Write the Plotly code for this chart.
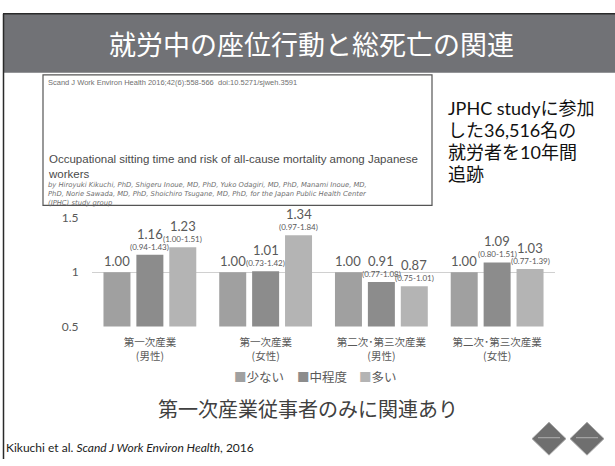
import plotly.graph_objects as go

# --- data -------------------------------------------------------------
categories = ["第一次産業<br>(男性)", "第一次産業<br>(女性)",
              "第二次･第三次産業<br>(男性)", "第二次･第三次産業<br>(女性)"]
series_names = ["少ない", "中程度", "多い"]
hr_low = [1.00, 1.00, 1.00, 1.00]
hr_mid = [1.16, 1.01, 0.91, 1.09]
hr_high = [1.23, 1.34, 0.87, 1.03]
ci_low = ["", "", "", ""]
ci_mid = ["(0.94-1.43)", "(0.73-1.42)", "(0.77-1.08)", "(0.80-1.51)"]
ci_high = ["(1.00-1.51)", "(0.97-1.84)", "(0.75-1.01)", "(0.77-1.39)"]
y_ticks = [0.5, 1, 1.5]

series_values = [hr_low, hr_mid, hr_high]
series_ci = [ci_low, ci_mid, ci_high]
bar_colors = ["#a0a0a0", "#8c8c8c", "#b4b4b4"]

W, H = 615, 466
BASE_FONT = "Lato, 'Noto Sans CJK JP', sans-serif"
JP_FONT = "'Noto Sans CJK JP', sans-serif"
LABEL_GRAY = "#595959"


def px(x):
    return x / W


def py(y):
    return 1 - y / H


fig = go.Figure()
for name, vals, col in zip(series_names, series_values, bar_colors):
    fig.add_trace(go.Bar(x=categories, y=vals, name=name, marker_color=col,
                         marker_line_width=0, showlegend=False))

# value and confidence-interval labels above each bar
slot = 33  # pixel width of one bar slot inside a group
annotations = []
for j, (vals, cis) in enumerate(zip(series_values, series_ci)):
    for cat, v, ci in zip(categories, vals, cis):
        xs = (j - 1) * slot
        annotations.append(dict(x=cat, y=v, xref="x", yref="y", text=f"{v:.2f}",
                                showarrow=False, xshift=xs,
                                yshift=21 if ci else 11,
                                font=dict(family=BASE_FONT, size=13, color=LABEL_GRAY)))
        if ci:
            annotations.append(dict(x=cat, y=v, xref="x", yref="y", text=ci,
                                    showarrow=False, xshift=xs, yshift=8,
                                    font=dict(family=BASE_FONT, size=8, color=LABEL_GRAY)))

# legend row
legend_x = [px(232), px(295), px(357)]
for name, col, lx in zip(series_names, bar_colors, legend_x):
    annotations.append(dict(x=lx, y=py(381), xref="paper", yref="paper",
                            xanchor="left", yanchor="middle", showarrow=False,
                            text=f"<span style='color:{col}'>■</span>{name}",
                            font=dict(family=JP_FONT, size=12.5, color=LABEL_GRAY)))

# slide title
annotations.append(dict(x=px(311), y=py(37), xref="paper", yref="paper",
                        xanchor="center", yanchor="middle", showarrow=False,
                        text="就労中の座位行動と総死亡の関連",
                        font=dict(family=JP_FONT, size=27, color="white")))

# study description on the right
desc = ["JPHC studyに参加", "した36,516名の", "就労者を10年間", "追跡"]
for i, line in enumerate(desc):
    annotations.append(dict(x=px(446), y=py(103 + 23 * i), xref="paper", yref="paper",
                            xanchor="left", yanchor="middle", showarrow=False,
                            text=line,
                            font=dict(family="Lato, 'Noto Sans CJK JP'", size=18,
                                      color="#111111")))

# article header inside the box
CITE_GRAY = "#707070"
annotations.append(dict(x=px(46), y=py(77), xref="paper", yref="paper",
                        xanchor="left", yanchor="middle", showarrow=False,
                        text="Scand J Work Environ Health 2016;42(6):558-566  doi:10.5271/sjweh.3591",
                        font=dict(family="Liberation Sans", size=7.5, color=CITE_GRAY)))
annotations.append(dict(x=px(46), y=py(164), xref="paper", yref="paper",
                        xanchor="left", yanchor="middle", showarrow=False, align="left",
                        text="Occupational sitting time and risk of all-cause mortality among Japanese<br>workers",
                        font=dict(family="Liberation Sans", size=11.5, color="#4a4a4a")))
authors = ["by Hiroyuki Kikuchi, PhD, Shigeru Inoue, MD, PhD, Yuko Odagiri, MD, PhD, Manami Inoue, MD,",
           "PhD, Norie Sawada, MD, PhD, Shoichiro Tsugane, MD, PhD, for the Japan Public Health Center",
           "(JPHC) study group"]
annotations.append(dict(x=px(46), y=py(192), xref="paper", yref="paper",
                        xanchor="left", yanchor="middle", showarrow=False, align="left",
                        text="<i>" + "<br>".join(authors) + "</i>",
                        font=dict(family="DejaVu Sans", size=6.8, color=CITE_GRAY)))

# conclusion and reference
annotations.append(dict(x=px(308), y=py(414), xref="paper", yref="paper",
                        xanchor="center", yanchor="middle", showarrow=False,
                        text="第一次産業従事者のみに関連あり",
                        font=dict(family=JP_FONT, size=20, color="#404040")))
annotations.append(dict(x=px(4), y=py(454), xref="paper", yref="paper",
                        xanchor="left", yanchor="middle", showarrow=False,
                        text="Kikuchi et al. <i>Scand J Work Environ Health</i>, 2016",
                        font=dict(family=BASE_FONT, size=12, color="#222222")))

shapes = [
    # title bar
    dict(type="rect", xref="paper", yref="paper", x0=px(3), x1=1, y0=py(67), y1=py(6),
         fillcolor="#717276", line_width=0, layer="below"),
    dict(type="line", xref="paper", yref="paper", x0=px(3), x1=1, y0=py(6), y1=py(6),
         line=dict(color="#2a2a2a", width=1.5)),
    dict(type="line", xref="paper", yref="paper", x0=px(3.5), x1=px(3.5), y0=py(6), y1=0,
         line=dict(color="#2a2a2a", width=1.5)),
    # article box
    dict(type="rect", xref="paper", yref="paper", x0=px(43), x1=px(432), y0=py(204), y1=py(69),
         line=dict(color="#555555", width=1.2)),
]
# two logo diamonds
for cx in (549, 587):
    cy, r = 445, 17
    path = (f"M {px(cx)} {py(cy - r)} L {px(cx + r)} {py(cy)} "
            f"L {px(cx)} {py(cy + r)} L {px(cx - r)} {py(cy)} Z")
    shapes.append(dict(type="path", xref="paper", yref="paper", path=path,
                       fillcolor="#6f6f6f", line=dict(color="#a8a8a8", width=1)))
    shapes.append(dict(type="line", xref="paper", yref="paper",
                       x0=px(cx - 11), x1=px(cx + 11), y0=py(cy - 1), y1=py(cy - 1),
                       line=dict(color="#b0b0b0", width=1)))

fig.update_layout(
    width=W, height=H, autosize=False,
    margin=dict(l=0, r=0, t=0, b=0),
    paper_bgcolor="white", plot_bgcolor="rgba(0,0,0,0)",
    barmode="group", bargap=0.147, bargroupgap=0.18,
    showlegend=False,
    xaxis=dict(domain=[px(92), px(555)], showgrid=False, showline=False,
               ticks="outside", ticklen=6, tickcolor="rgba(0,0,0,0)",
               tickfont=dict(family=JP_FONT, size=10.5, color=LABEL_GRAY)),
    yaxis=dict(domain=[py(329), py(217)], range=[0.5, 1.5], tickvals=y_ticks,
               ticktext=[f"{t:g}" for t in y_ticks],
               showgrid=True, gridcolor="#d0d0d0", gridwidth=1, zeroline=False,
               showline=False, ticks="outside", ticklen=10,
               tickcolor="rgba(0,0,0,0)",
               tickfont=dict(family=BASE_FONT, size=12, color=LABEL_GRAY)),
    annotations=annotations,
    shapes=shapes,
)

fig.write_html("out.html")
